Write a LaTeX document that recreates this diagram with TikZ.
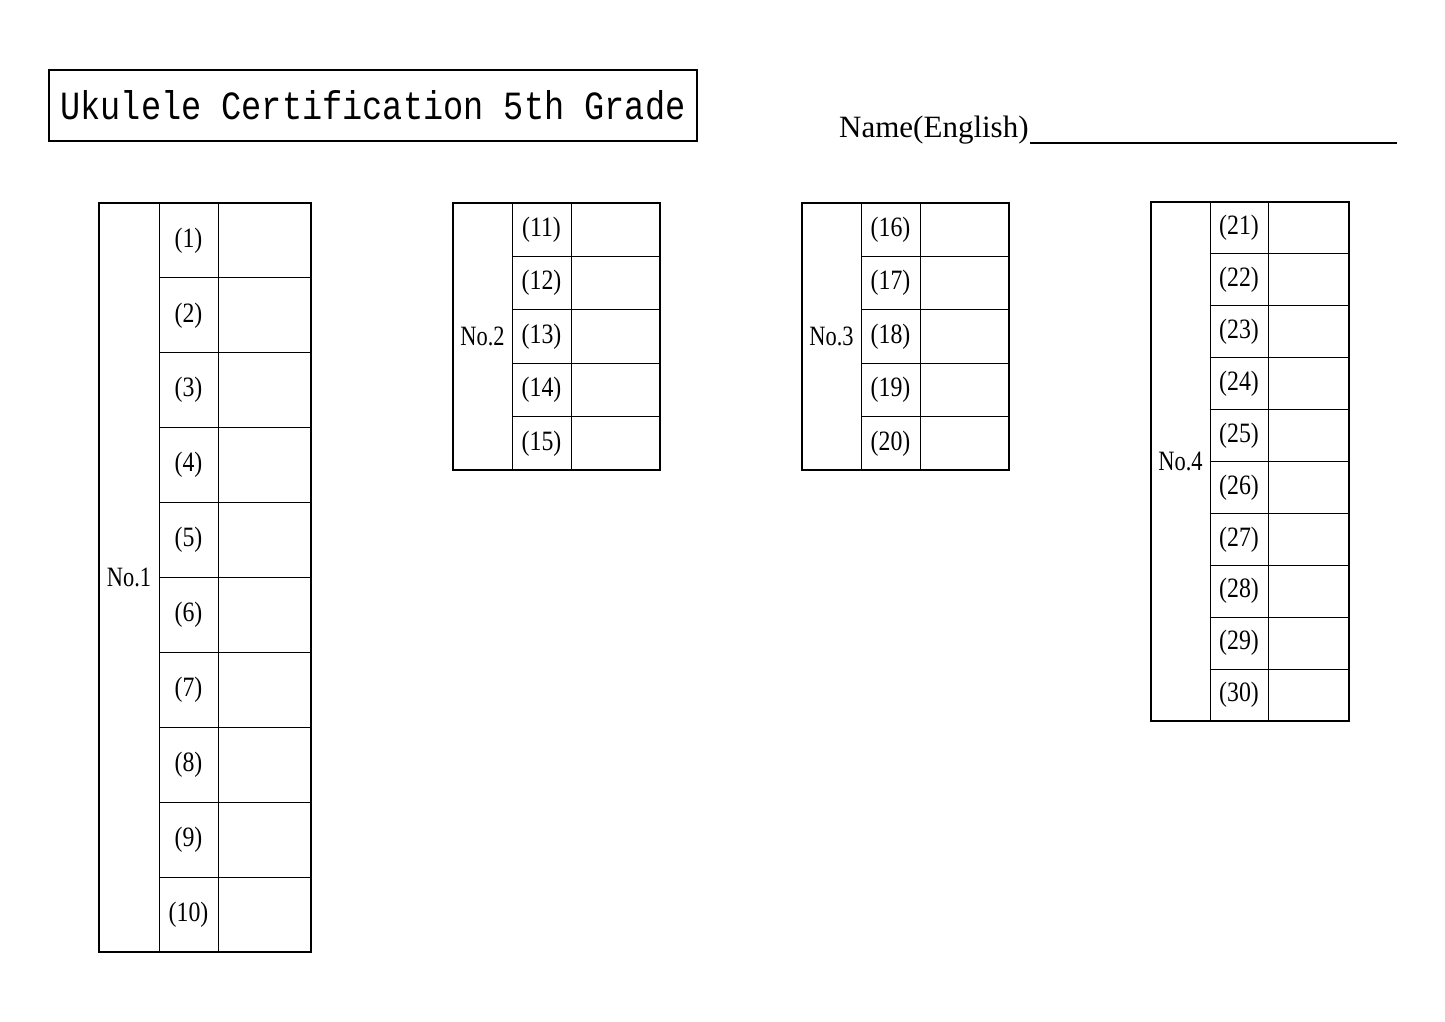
\documentclass[tikz,border=0pt]{standalone}
\usepackage{fontspec}
\setmainfont{Liberation Serif}
\newfontfamily\titlefont{Liberation Mono}
\begin{document}
\begin{tikzpicture}[x=1pt,y=-1pt,
  outer/.style={draw,line width=2.4pt},
  inner/.style={draw,line width=0.9pt},
  lab/.style={font=\fontsize{28}{28}\selectfont,inner sep=0pt}]
\useasboundingbox (0,0) rectangle (1445,1022);
\node[draw,line width=1.8pt,minimum width=648pt,minimum height=71pt,anchor=north west,inner sep=0pt] (title) at (48,69) {};
\node[font=\titlefont\fontsize{40}{40}\selectfont,xscale=0.84,inner sep=0pt] (tt) at (title.center) {Ukulele Certification 5th Grade};
\node[font=\fontsize{31}{31}\selectfont,inner sep=0pt,anchor=base west,xscale=1.0] (name) at (839,138) {Name(English)};
\coordinate (u1) at (1030,143);
\coordinate (u2) at (1397,143);
\draw[line width=1.2pt] (u1) -- (u2);
\foreach \xa/\xb/\xc/\xd/\ya/\yb/\n/\s/\lbl in
  {99/159/218/311/203/952/10/1/No.1,
   453/512/571/660/203/470/5/11/No.2,
   802/861/920/1009/203/470/5/16/No.3,
   1151/1210/1268/1349/202/721/10/21/No.4}{
  \pgfmathsetmacro\h{(\yb-\ya)/\n}
  \foreach \i in {1,...,\n}{
    \pgfmathsetmacro\yt{\ya+(\i-1)*\h}
    \pgfmathsetmacro\ym{\ya+(\i-0.5)*\h}
    \pgfmathtruncatemacro\num{\s+\i-1}
    \ifnum\i>1 \draw[inner] (\xb,\yt) -- (\xd,\yt);\fi
    \node[lab,xscale=0.85] (c\num) at ({(\xb+\xc)/2},\ym) {(\num)};
  }
  \draw[inner] (\xb,\ya) -- (\xb,\yb);
  \draw[inner] (\xc,\ya) -- (\xc,\yb);
  \draw[outer] (\xa,\ya) rectangle (\xd,\yb);
  \node[lab,xscale=0.8] (l\s) at ({(\xa+\xb)/2},{(\ya+\yb)/2}) {\lbl};
}
\end{tikzpicture}
\end{document}
